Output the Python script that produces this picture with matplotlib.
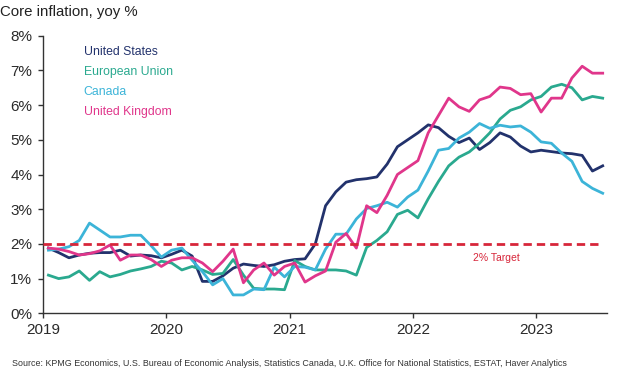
import numpy as np
import matplotlib
matplotlib.use("Agg")
import matplotlib.pyplot as plt

plt.rcParams['font.family'] = ['Liberation Sans', 'DejaVu Sans']

# monthly core inflation, yoy %, Jan 2019 - Jul 2023
us = [1.88, 1.75, 1.60, 1.68, 1.73, 1.75, 1.75, 1.82, 1.65, 1.68, 1.66, 1.60,
      1.70, 1.82, 1.65, 0.92, 0.92, 1.08, 1.30, 1.42, 1.38, 1.35, 1.40, 1.50,
      1.55, 1.57, 2.00, 3.10, 3.50, 3.78, 3.85, 3.88, 3.93, 4.30, 4.80, 5.00,
      5.20, 5.43, 5.35, 5.10, 4.92, 5.05, 4.72, 4.92, 5.20, 5.08, 4.82, 4.65,
      4.70, 4.66, 4.62, 4.60, 4.55, 4.10, 4.25]
eu = [1.10, 1.00, 1.05, 1.22, 0.95, 1.20, 1.05, 1.12, 1.22, 1.28, 1.35, 1.50,
      1.45, 1.25, 1.35, 1.25, 1.12, 1.15, 1.55, 1.10, 0.72, 0.70, 0.70, 0.68,
      1.52, 1.35, 1.25, 1.25, 1.25, 1.22, 1.10, 1.90, 2.10, 2.35, 2.85, 2.97,
      2.75, 3.30, 3.80, 4.25, 4.50, 4.65, 4.90, 5.20, 5.60, 5.85, 5.95, 6.15,
      6.25, 6.52, 6.60, 6.50, 6.15, 6.25, 6.20]
canada = [1.82, 1.85, 1.92, 2.10, 2.60, 2.40, 2.20, 2.20, 2.25, 2.25, 1.95, 1.62,
          1.82, 1.88, 1.53, 1.20, 0.82, 1.00, 0.53, 0.53, 0.70, 0.68, 1.33, 1.05,
          1.35, 1.33, 1.25, 1.85, 2.28, 2.28, 2.72, 3.02, 3.10, 3.20, 3.06, 3.35,
          3.55, 4.10, 4.70, 4.75, 5.05, 5.22, 5.47, 5.33, 5.42, 5.37, 5.40, 5.22,
          4.94, 4.90, 4.62, 4.38, 3.80, 3.60, 3.46]
uk = [1.88, 1.85, 1.78, 1.68, 1.72, 1.80, 1.97, 1.53, 1.68, 1.68, 1.55, 1.35,
      1.53, 1.60, 1.60, 1.45, 1.20, 1.50, 1.85, 0.88, 1.25, 1.45, 1.10, 1.35,
      1.45, 0.90, 1.08, 1.22, 2.05, 2.30, 1.88, 3.10, 2.90, 3.40, 4.00, 4.20,
      4.40, 5.20, 5.70, 6.20, 5.95, 5.82, 6.15, 6.25, 6.52, 6.48, 6.30, 6.33,
      5.80, 6.20, 6.20, 6.78, 7.12, 6.92, 6.92]

series_names = ['United States', 'European Union', 'Canada', 'United Kingdom']
series_colors = ['#22326c', '#2aa98f', '#3cb4d8', '#e0368b']
target = 2.0
years = [2019, 2020, 2021, 2022, 2023]

# mid-month positions in decimal years
months = 2019 + (np.arange(len(us)) + 0.5) / 12

fig = plt.figure(figsize=(6.23, 3.68), dpi=100)
ax = fig.add_axes([0.0695, 0.1486, 0.9045, 0.7544])

for vals, name, col in zip([us, eu, canada, uk], series_names, series_colors):
    ax.plot(months, vals, color=col, lw=2.0, label=name, solid_joinstyle='round')

ax.hlines(target, 2019.0, 2023.5, colors='#d7263a', lw=2.0,
          linestyles=(0, (3.0, 1.8)), zorder=5)
ax.text(2022.68, target - 0.4, '2% Target', color='#d7263a', fontsize=7.5,
        ha='center', va='center')

ax.set_xlim(2019.0, 2023.575)
ax.set_ylim(0, 8)
ax.set_xticks(years)
ax.set_xticklabels([str(y) for y in years])
ax.set_yticks(range(0, 9))
ax.set_yticklabels([f'{v}%' for v in range(0, 9)])

for s in ['top', 'right']:
    ax.spines[s].set_visible(False)
for s in ['left', 'bottom']:
    ax.spines[s].set_color('#333333')
    ax.spines[s].set_linewidth(1.0)
ax.tick_params(axis='both', colors='#333333', labelcolor='#2a2a2a',
               labelsize=11, length=3.5, width=1.0)
ax.tick_params(axis='y', pad=4.5)

leg = ax.legend(loc='upper left', bbox_to_anchor=(0.052, 1.003), frameon=False,
                handlelength=0, handletextpad=0, labelcolor='linecolor',
                fontsize=8.8, labelspacing=0.66)
for h in leg.legend_handles:
    h.set_visible(False)

fig.text(0.0, 0.967, 'Core inflation, yoy %', fontsize=10.8, color='#222222',
         ha='left', va='center')
fig.text(0.019, 0.013,
         'Source: KPMG Economics, U.S. Bureau of Economic Analysis, Statistics Canada, '
         'U.K. Office for National Statistics, ESTAT, Haver Analytics',
         fontsize=6.4, color='#333333', ha='left', va='center')

fig.savefig('out.png', dpi=100)
